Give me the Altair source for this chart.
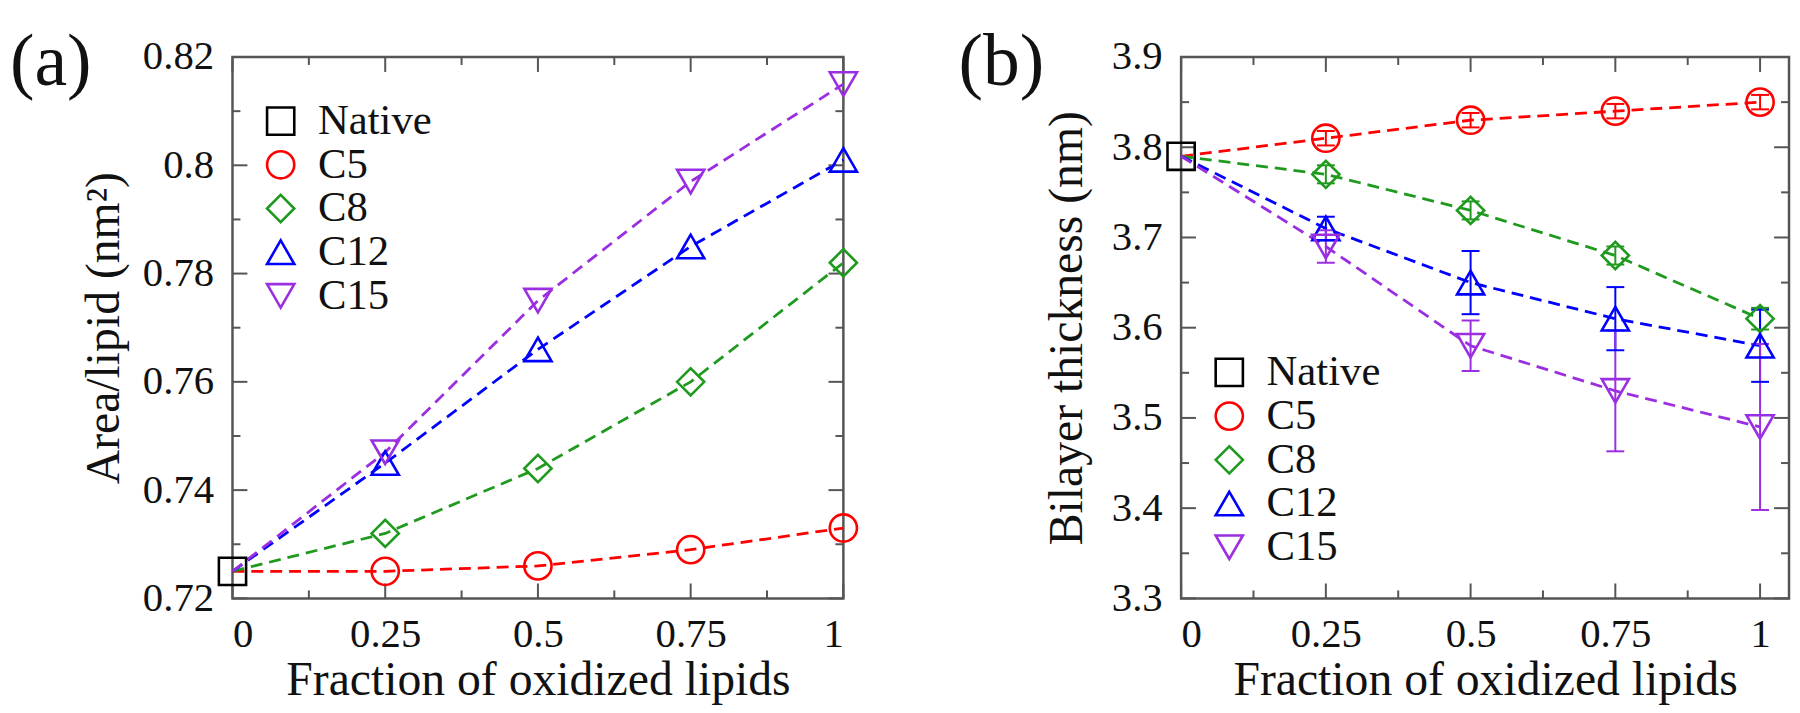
import altair as alt
import pandas as pd

FONT = "Liberation Serif"
GUIDE_FONT = "Liberation Serif, Times New Roman, Tinos, serif"
TEXT = "#111111"
TICK = "#555555"

# ---------------- data ----------------
fractions = [0.0, 0.25, 0.5, 0.75, 1.0]
series_names = ["Native", "C5", "C8", "C12", "C15"]
series_colors = ["#000000", "#ff0000", "#1f9a1f", "#0000ff", "#9a2ee0"]
series_shapes = ["square", "circle", "diamond", "triangle-up", "triangle-down"]

native_area = 0.725
area_c5 = [0.725, 0.725, 0.726, 0.729, 0.733]
area_c8 = [0.725, 0.732, 0.744, 0.760, 0.782]
area_c12 = [0.725, 0.745, 0.766, 0.785, 0.801]
area_c15 = [0.725, 0.747, 0.775, 0.797, 0.815]
area_err_zero = [0.0, 0.0, 0.0, 0.0, 0.0]

native_thick = 3.79
thick_c5 = [3.79, 3.81, 3.83, 3.84, 3.85]
thick_c8 = [3.79, 3.77, 3.73, 3.68, 3.61]
thick_c12 = [3.79, 3.71, 3.65, 3.61, 3.58]
thick_c15 = [3.79, 3.69, 3.58, 3.53, 3.49]
err_c5 = [0.0, 0.008, 0.008, 0.008, 0.008]
err_c8 = [0.0, 0.010, 0.010, 0.010, 0.012]
err_c12 = [0.0, 0.013, 0.035, 0.035, 0.040]
err_c15 = [0.0, 0.018, 0.028, 0.067, 0.092]

x_major = [0.0, 0.25, 0.5, 0.75, 1.0]
x_minor = [0.125, 0.375, 0.625, 0.875]
ya_major = [0.72, 0.74, 0.76, 0.78, 0.80, 0.82]
ya_minor = [0.73, 0.75, 0.77, 0.79, 0.81]
yb_major = [3.3, 3.4, 3.5, 3.6, 3.7, 3.8, 3.9]
yb_minor = [3.35, 3.45, 3.55, 3.65, 3.75, 3.85]
x_title = "Fraction of oxidized lipids"
ya_title = "Area/lipid (nm²)"
yb_title = "Bilayer thickness (nm)"
panel_labels = ["(a)", "(b)"]

H = 545
W_A = 615
W_B = 612
LABEL_EXPR = "format(datum.value, '~g')"


def long_table(native_val, vals_list, errs_list):
    rows = [dict(series="Native", color=series_colors[0], x=0.0, y=native_val,
                 err=0.0, lo=native_val, hi=native_val, marker=True)]
    for name, col, vals, errs in zip(series_names[1:], series_colors[1:], vals_list, errs_list):
        for x, v, e in zip(fractions, vals, errs):
            rows.append(dict(series=name, color=col, x=x, y=v, err=e, lo=v - e, hi=v + e,
                             marker=bool(x > 0)))
    return pd.DataFrame(rows)


df_a = long_table(native_area, [area_c5, area_c8, area_c12, area_c15], [area_err_zero] * 4)
df_b = long_table(native_thick, [thick_c5, thick_c8, thick_c12, thick_c15],
                  [err_c5, err_c8, err_c12, err_c15])


def panel(df, xdom, ydom, y_major, y_minor, ytitle, width, label, legend_y, title_x, with_err):
    xs = alt.Scale(domain=xdom, nice=False, zero=False)
    ys = alt.Scale(domain=ydom, nice=False, zero=False)
    base = alt.Chart(df)

    xaxis = alt.Axis(values=x_major, labelExpr=LABEL_EXPR, title=x_title, ticks=False, domain=False,
                     grid=False, labelPadding=16, titleY=97, titleBaseline="alphabetic",
                     labelFont=GUIDE_FONT, titleFont=GUIDE_FONT, labelFontSize=41, titleFontSize=48,
                     labelColor=TEXT, titleColor=TEXT, titleFontWeight="normal")
    yaxis = alt.Axis(values=y_major, labelExpr=LABEL_EXPR, title=ytitle, ticks=False, domain=False,
                     grid=False, labelPadding=19, titleX=title_x,
                     labelFont=GUIDE_FONT, titleFont=GUIDE_FONT, labelFontSize=41, titleFontSize=48,
                     labelColor=TEXT, titleColor=TEXT, titleFontWeight="normal")

    def X(field):
        return alt.X(field, scale=xs, axis=xaxis)

    def Y(field):
        return alt.Y(field, scale=ys, axis=yaxis)

    layers = []
    lines = base.transform_filter("datum.series != 'Native'").mark_line(
        strokeDash=[12, 7], strokeWidth=2.8).encode(
        x=X("x:Q"), y=Y("y:Q"),
        color=alt.Color("color:N", scale=None),
        detail="series:N",
    )
    layers.append(lines)

    # inward ticks on all four sides
    def xticks(vals, L):
        c = alt.Chart(pd.DataFrame({"v": vals})).mark_rule(color=TICK, strokeWidth=2)
        return [c.encode(x=X("v:Q"), y=alt.value(H), y2=alt.value(H - L)),
                c.encode(x=X("v:Q"), y=alt.value(0), y2=alt.value(L))]

    def yticks(vals, L):
        c = alt.Chart(pd.DataFrame({"v": vals})).mark_rule(color=TICK, strokeWidth=2)
        return [c.encode(y=Y("v:Q"), x=alt.value(0), x2=alt.value(L)),
                c.encode(y=Y("v:Q"), x=alt.value(width), x2=alt.value(width - L))]

    layers += xticks(x_major, 15) + xticks(x_minor, 8)
    layers += yticks(y_major, 15) + yticks(y_minor, 8)

    if with_err:
        eb = base.transform_filter("datum.marker && datum.err > 0")
        layers.append(eb.mark_rule(strokeWidth=2).encode(
            x=X("x:Q"), y=Y("lo:Q"), y2="hi:Q",
            color=alt.Color("color:N", scale=None)))
        for fld in ["lo", "hi"]:
            layers.append(eb.mark_point(shape="stroke", size=324, strokeWidth=2, opacity=1).encode(
                x=X("x:Q"), y=Y(f"{fld}:Q"),
                color=alt.Color("color:N", scale=None)))

    leg = alt.Legend(orient="none", legendX=27, legendY=legend_y, title=None,
                     labelFont=GUIDE_FONT, labelFontSize=43, labelColor=TEXT,
                     symbolSize=750, symbolStrokeWidth=2.6, labelOffset=16,
                     rowPadding=0, padding=0)
    pts = base.transform_filter("datum.marker").mark_point(
        size=750, strokeWidth=2.6, filled=False, opacity=1).encode(
        x=X("x:Q"), y=Y("y:Q"),
        color=alt.Color("series:N", scale=alt.Scale(domain=series_names, range=series_colors), legend=leg),
        shape=alt.Shape("series:N", scale=alt.Scale(domain=series_names, range=series_shapes), legend=leg),
    )
    layers.append(pts)

    lab = alt.Chart(pd.DataFrame({"t": [label]})).mark_text(
        font=FONT, fontSize=74, align="left", baseline="alphabetic", color=TEXT).encode(
        text="t:N", x=alt.value(-224), y=alt.value(28))
    layers.append(lab)

    return alt.layer(*layers).properties(width=width, height=H)


pa = panel(df_a, [0, 1], [0.72, 0.82], ya_major, ya_minor, ya_title, W_A, panel_labels[0], 43, -105, False)
pb = panel(df_b, [0, 1.05], [3.3, 3.9], yb_major, yb_minor, yb_title, W_B, panel_labels[1], 296, -90, True)

chart = alt.hconcat(pa, pb, spacing=93).resolve_scale(
    color="independent", shape="independent", x="independent", y="independent"
).properties(
    padding={"left": 0, "top": 14, "right": 0, "bottom": 0}
).configure(font=GUIDE_FONT).configure_view(stroke="#555555", strokeWidth=2.5).configure_axis(
    labelFont=GUIDE_FONT, titleFont=GUIDE_FONT
).configure_legend(labelFont=GUIDE_FONT)

chart.save("out.html", embed_options={"renderer": "svg", "actions": False})
